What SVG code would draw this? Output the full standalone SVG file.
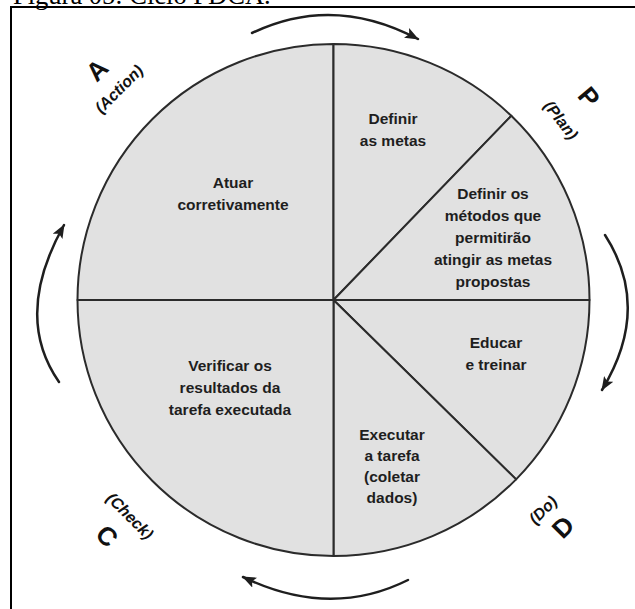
<svg xmlns="http://www.w3.org/2000/svg" width="635" height="609" viewBox="0 0 635 609">
  <style>
    .sector { fill: #e1e1e1; stroke: #2b2b2b; stroke-width: 2; stroke-linejoin: round; }
    .label { font-family: "Liberation Sans", Arial, sans-serif; font-weight: bold; font-size: 15.5px; fill: #1e1e1e; text-anchor: middle; }
    .phase { font-family: "Liberation Sans", Arial, sans-serif; font-weight: bold; font-size: 26px; fill: #111; text-anchor: middle; dominant-baseline: central; }
    .phase-name { font-family: "Liberation Sans", Arial, sans-serif; font-weight: bold; font-style: italic; font-size: 16px; fill: #111; text-anchor: middle; dominant-baseline: central; }
    .cycle { fill: none; stroke: #1e1e1e; stroke-width: 2.5; stroke-linecap: round; marker-end: url(#head); }
    .frame { stroke: #000; stroke-width: 2; fill: none; }
    .caption { font-family: "Liberation Serif", "Times New Roman", serif; font-size: 26.5px; fill: #000; }
  </style>
  <defs>
    <marker id="head" markerUnits="userSpaceOnUse" viewBox="0 0 14 11" refX="13" refY="5.5" markerWidth="14" markerHeight="11" orient="auto">
      <path d="M0,0 L14,5.5 L0,11 L3,5.5 Z" fill="#1e1e1e"/>
    </marker>
  </defs>

  <rect width="635" height="609" fill="#fff"/>

  <!-- caption above the frame -->
  <text class="caption" x="13" y="3.5">Figura 05: Ciclo PDCA.</text>

  <!-- frame: top and left edges -->
  <path class="frame" d="M11,609 L11,7 L635,7"/>

  <!-- six sectors of the PDCA wheel, centre (333.5,300), r 256 -->
  <g id="atuar">
    <path class="sector" d="M333.5,300 L333.5,44 A256,256 0 0 0 77.5,300 Z"/>
    <text class="label"><tspan x="233" y="188">Atuar</tspan><tspan x="233" y="210">corretivamente</tspan></text>
  </g>
  <g id="definir-metas">
    <path class="sector" d="M333.5,300 L511.3,115.8 A256,256 0 0 0 333.5,44 Z"/>
    <text class="label"><tspan x="393" y="124">Definir</tspan><tspan x="393" y="146">as metas</tspan></text>
  </g>
  <g id="definir-metodos">
    <path class="sector" d="M333.5,300 L589.5,300 A256,256 0 0 0 511.3,115.8 Z"/>
    <text class="label"><tspan x="493" y="199">Definir os</tspan><tspan x="493" y="221">métodos que</tspan><tspan x="493" y="243">permitirão</tspan><tspan x="493" y="265">atingir as metas</tspan><tspan x="493" y="287">propostas</tspan></text>
  </g>
  <g id="educar">
    <path class="sector" d="M333.5,300 L516.1,479.4 A256,256 0 0 0 589.5,300 Z"/>
    <text class="label"><tspan x="496" y="348">Educar</tspan><tspan x="496" y="370">e treinar</tspan></text>
  </g>
  <g id="executar">
    <path class="sector" d="M333.5,300 L333.5,556 A256,256 0 0 0 516.1,479.4 Z"/>
    <text class="label"><tspan x="392" y="440">Executar</tspan><tspan x="392" y="461">a tarefa</tspan><tspan x="392" y="482">(coletar</tspan><tspan x="392" y="503">dados)</tspan></text>
  </g>
  <g id="verificar">
    <path class="sector" d="M333.5,300 L77.5,300 A256,256 0 0 0 333.5,556 Z"/>
    <text class="label"><tspan x="230" y="371">Verificar os</tspan><tspan x="230" y="393">resultados da</tspan><tspan x="230" y="415">tarefa executada</tspan></text>
  </g>

  <!-- phase letters round the wheel -->
  <g id="phase-a">
    <text class="phase" transform="translate(97,70) rotate(-45)">A</text>
    <text class="phase-name" transform="translate(119,89) rotate(-45)">(Action)</text>
  </g>
  <g id="phase-p">
    <text class="phase" transform="translate(589,97) rotate(50)">P</text>
    <text class="phase-name" transform="translate(561,120) rotate(52)">(Plan)</text>
  </g>
  <g id="phase-d">
    <text class="phase" transform="translate(563,527) rotate(-45)">D</text>
    <text class="phase-name" transform="translate(543,510) rotate(-45)">(Do)</text>
  </g>
  <g id="phase-c">
    <text class="phase" transform="translate(107,536) rotate(45)">C</text>
    <text class="phase-name" transform="translate(130,516) rotate(45)">(Check)</text>
  </g>

  <!-- clockwise cycle arrows -->
  <g id="connectors">
    <path class="cycle" d="M252,33 Q333,-6 418,39"/>
    <path class="cycle" d="M605,235 Q652,308 602,390"/>
    <path class="cycle" d="M408,580 Q330,619 243,577"/>
    <path class="cycle" d="M59,382 Q13,316 64,225"/>
  </g>
</svg>
